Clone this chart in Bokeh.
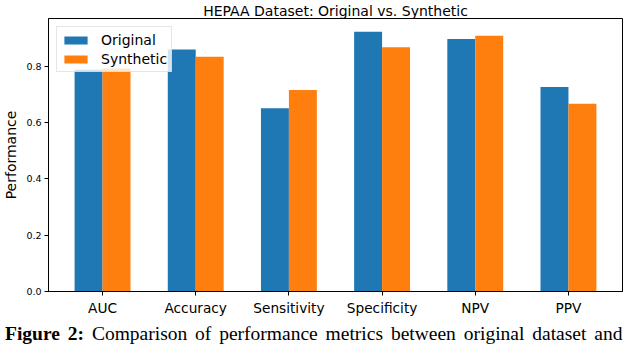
from bokeh.plotting import figure
from bokeh.layouts import column
from bokeh.models import ColumnDataSource, FixedTicker, Legend, LegendItem, Div
from bokeh.embed import file_html
from bokeh.resources import INLINE

metrics = ["AUC", "Accuracy", "Sensitivity", "Specificity", "NPV", "PPV"]
original = [0.788, 0.860, 0.651, 0.923, 0.897, 0.727]
synthetic = [0.792, 0.834, 0.716, 0.868, 0.909, 0.667]
y_ticks = [0.0, 0.2, 0.4, 0.6, 0.8]
title_text = "HEPAA Dataset: Original vs. Synthetic"
caption_bold = "Figure 2:"
caption_rest = "Comparison of performance metrics between original dataset and"

idx = list(range(len(metrics)))
bar_w = 0.3
src = ColumnDataSource(dict(
    x_o=[i - bar_w / 2 for i in idx],
    x_s=[i + bar_w / 2 for i in idx],
    orig=original,
    syn=synthetic,
))

FONT = "DejaVu Sans"
W = 624
CAP_H = 21

p = figure(width=W, height=339 - CAP_H, output_backend="svg", toolbar_location=None,
           x_range=(-0.58, 5.58), y_range=(0, 0.97),
           min_border_left=0, min_border_right=2, min_border_top=0, min_border_bottom=0)

r1 = p.vbar(x="x_o", top="orig", width=bar_w, source=src, fill_color="#1f77b4", line_color=None)
r2 = p.vbar(x="x_s", top="syn", width=bar_w, source=src, fill_color="#ff7f0e", line_color=None)

p.title.text = title_text
p.title.text_font = FONT
p.title.text_font_size = "14px"
p.title.text_font_style = "normal"
p.title.text_color = "black"
p.title.align = "center"
p.title.standoff = 0

p.grid.visible = False
p.outline_line_color = "black"
p.outline_line_alpha = 1.0
p.outline_line_width = 1

p.xaxis.ticker = FixedTicker(ticks=idx)
p.xaxis.major_label_overrides = {i: m for i, m in zip(idx, metrics)}
p.xaxis.minor_tick_line_color = None
p.xaxis.major_tick_in = 0
p.xaxis.major_tick_out = 4
p.xaxis.major_label_text_font = FONT
p.xaxis.major_label_text_font_size = "13.7px"
p.xaxis.major_label_text_color = "black"
p.xaxis.major_label_standoff = 4
p.xaxis.axis_line_color = "black"

p.yaxis.ticker = FixedTicker(ticks=y_ticks)
p.yaxis.minor_tick_line_color = None
p.yaxis.major_tick_in = 0
p.yaxis.major_tick_out = 4
p.yaxis.major_label_text_font = FONT
p.yaxis.major_label_text_font_size = "9.5px"
p.yaxis.major_label_text_color = "black"
p.yaxis.major_label_standoff = 3
p.yaxis.axis_label = "Performance"
p.yaxis.axis_label_text_font = FONT
p.yaxis.axis_label_text_font_size = "14px"
p.yaxis.axis_label_text_font_style = "normal"
p.yaxis.axis_label_text_color = "black"
p.yaxis.axis_label_standoff = 4
p.yaxis.axis_line_color = "black"
p.yaxis.major_label_overrides = {t: f"{t:.1f}" for t in y_ticks}

legend = Legend(items=[LegendItem(label="Original", renderers=[r1]),
                       LegendItem(label="Synthetic", renderers=[r2])],
                location="top_left")
legend.label_text_font = FONT
legend.label_text_font_size = "14px"
legend.label_text_color = "black"
legend.glyph_width = 29
legend.glyph_height = 10
legend.label_height = 17
legend.label_standoff = 11
legend.spacing = 2
legend.padding = 4
legend.margin = 8
legend.border_line_color = "#cccccc"
legend.background_fill_alpha = 0.8
p.add_layout(legend)

cap = Div(text=f"<b>{caption_bold}</b> {caption_rest}", width=W, height=CAP_H,
          styles={"font-family": "'Liberation Serif', serif", "font-size": "19.5px",
                  "color": "black", "white-space": "nowrap", "overflow": "hidden",
                  "word-spacing": "3px", "line-height": "21px"})

layout = column(p, cap, spacing=0)
open("out.html", "w").write(file_html(layout, INLINE))
